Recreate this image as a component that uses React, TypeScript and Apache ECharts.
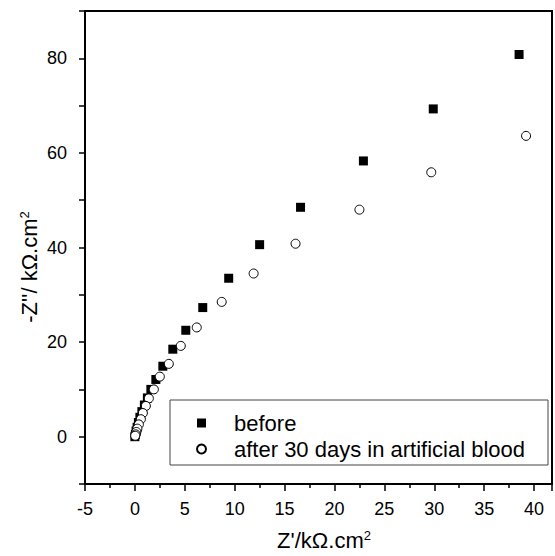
import React, { useEffect, useRef } from "react";
import * as echarts from "echarts";

const FONT = "'Liberation Sans', Arial, Helvetica, sans-serif";

const beforeX = [38.5, 29.9, 22.9, 16.6, 12.5, 9.4, 6.8, 5.1, 3.8, 2.8, 2.1, 1.6, 1.25, 0.95, 0.7, 0.5, 0.35, 0.22, 0.12, 0.05, 0.0];
const beforeY = [80.8, 69.3, 58.3, 48.5, 40.6, 33.5, 27.3, 22.5, 18.5, 14.9, 12.1, 10.0, 8.2, 6.7, 5.3, 4.1, 3.0, 2.0, 1.2, 0.5, 0.0];

const afterX = [39.2, 29.7, 22.5, 16.1, 11.9, 8.7, 6.2, 4.6, 3.4, 2.5, 1.9, 1.4, 1.1, 0.8, 0.6, 0.4, 0.25, 0.15, 0.08, 0.03];
const afterY = [63.6, 55.9, 48.0, 40.8, 34.5, 28.5, 23.1, 19.2, 15.4, 12.7, 10.0, 8.1, 6.5, 5.0, 3.7, 2.6, 1.7, 1.0, 0.5, 0.2];

const seriesNames = ["before", "after 30 days in artificial blood"];
const xTitle = "Z'/kΩ.cm";
const yTitle = "-Z''/ kΩ.cm";

export default function App() {
  const ref = useRef<HTMLDivElement>(null);
  useEffect(() => {
    if (!ref.current) return;
    const chart = echarts.init(ref.current, null, { renderer: "svg" });
    const axisLineStyle = { color: "#000", width: 2 };
    const option = {
      animation: false,
      textStyle: { fontFamily: FONT },
      grid: { left: 85, right: 2, top: 11, bottom: 72, show: true, borderColor: "#000", borderWidth: 2 },
      xAxis: {
        type: "value",
        min: -5,
        max: 41.8,
        interval: 5,
        axisLine: { onZero: false, lineStyle: axisLineStyle },
        axisTick: { length: 7, lineStyle: { color: "#000", width: 1.5 } },
        minorTick: { show: true, splitNumber: 2, length: 4, lineStyle: { color: "#000", width: 1.5 } },
        splitLine: { show: false },
        axisLabel: {
          fontSize: 18,
          color: "#000",
          margin: 16,
          fontFamily: FONT,
          formatter: (v: number) => (Math.abs(v % 5) < 1e-9 ? String(v) : ""),
        },
      },
      yAxis: {
        type: "value",
        min: -10,
        max: 90,
        interval: 10,
        axisLine: { onZero: false, lineStyle: axisLineStyle },
        axisTick: { length: 6, lineStyle: { color: "#000", width: 1.5 } },
        splitLine: { show: false },
        axisLabel: {
          fontSize: 18,
          color: "#000",
          margin: 18,
          fontFamily: FONT,
          formatter: (v: number) => (Math.abs(v % 20) < 1e-9 ? String(v) : ""),
        },
      },
      legend: {
        orient: "vertical",
        left: 196,
        top: 412,
        itemWidth: 9,
        itemHeight: 9,
        itemGap: 4,
        padding: 0,
        data: seriesNames,
        textStyle: { fontSize: 22, color: "#000", fontFamily: FONT, lineHeight: 22, padding: [0, 0, 0, 23] },
      },
      graphic: [
        {
          type: "rect",
          z: 3,
          shape: { x: 170, y: 400, width: 378, height: 65 },
          style: { fill: "#fff", stroke: "#444", lineWidth: 1 },
        },
        {
          type: "text",
          x: 324,
          y: 540,
          style: {
            text: xTitle + "{sup|2}",
            font: `22px ${FONT}`,
            fill: "#000",
            align: "center",
            verticalAlign: "middle",
            rich: { sup: { fontSize: 13, fontFamily: FONT, verticalAlign: "top", fill: "#000" } },
          },
        },
        {
          type: "text",
          x: 29,
          y: 267,
          rotation: Math.PI / 2,
          style: {
            text: yTitle + "{sup|2}",
            font: `22px ${FONT}`,
            fill: "#000",
            align: "center",
            verticalAlign: "middle",
            rich: { sup: { fontSize: 13, fontFamily: FONT, verticalAlign: "top", fill: "#000" } },
          },
        },
      ],
      series: [
        {
          name: seriesNames[0],
          type: "scatter",
          symbol: "rect",
          symbolSize: 9,
          itemStyle: { color: "#000", opacity: 1 },
          data: beforeX.map((x, i) => [x, beforeY[i]]),
        },
        {
          name: seriesNames[1],
          type: "scatter",
          symbol: "circle",
          symbolSize: 9,
          itemStyle: { color: "#fff", borderColor: "#000", borderWidth: 1, opacity: 1 },
          data: afterX.map((x, i) => [x, afterY[i]]),
        },
      ],
    };
    chart.setOption(option as any);
    return () => chart.dispose();
  }, []);
  return <div ref={ref} style={{ width: 555, height: 556, position: "absolute", left: 0, top: 0 }} />;
}
